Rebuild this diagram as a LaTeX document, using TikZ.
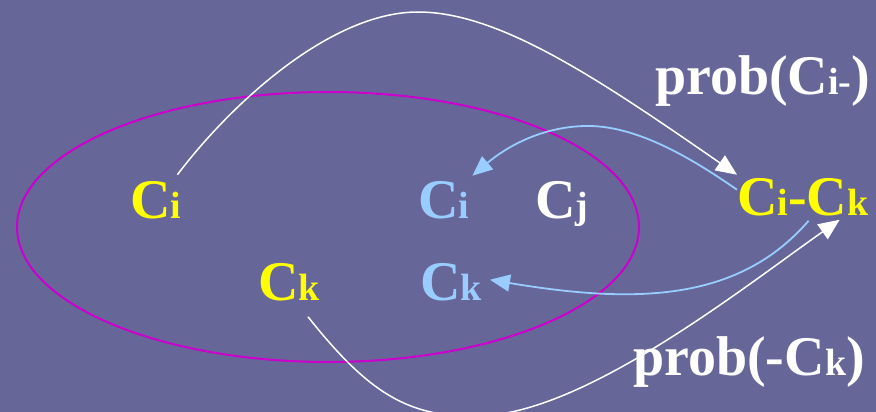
\documentclass[tikz,border=0pt]{standalone}
\usepackage{fontspec}
\setmainfont{Liberation Serif}
\usetikzlibrary{arrows.meta,calc}
\definecolor{bgc}{HTML}{666699}
\definecolor{mag}{HTML}{CC00CC}
\definecolor{lblue}{HTML}{99CCFF}
\definecolor{yel}{HTML}{FFFF00}
\newcommand{\sbs}[1]{{\fontsize{38}{38}\selectfont #1}}
\tikzset{
  lbl/.style={inner sep=0pt, anchor=base west, font=\fontsize{56}{56}\selectfont\bfseries},
  wline/.style={draw=white, line width=1.5pt, -{Triangle[length=21pt,width=18pt]}},
  bline/.style={draw=lblue, line width=1.8pt, -{Triangle[length=20pt,width=17pt]}},
}
\begin{document}
\begin{tikzpicture}[x=1pt,y=-1pt]
\fill[bgc] (0,0) rectangle (876,412);
\useasboundingbox (0,0) rectangle (876,412);
\draw[mag, line width=2pt] (328,227) ellipse [x radius=311, y radius=135];
\node[lbl, text=yel] (ciY) at (130,218) {C\sbs{i}};
\node[lbl, text=lblue] (ciB) at (418,218) {C\sbs{i}};
\node[lbl, text=white] (cj) at (535,218) {C\sbs{j}};
\node[lbl, text=yel] (ckY) at (258,300) {C\sbs{k}};
\node[lbl, text=lblue] (ckB) at (420,300) {C\sbs{k}};
\node[lbl, text=yel] (cick) at (737,215) {C\sbs{i}-C\sbs{k}};
\node[lbl, text=white] (p1) at (655,95) {prob(C\sbs{i-})};
\node[lbl, text=white] (p2) at (633,375) {prob(-C\sbs{k})};
% white arcs
\draw[wline] ($(ciY.north east)+(-4,-6)$) .. controls (230,105) and (330,12) .. (418,12)
  .. controls (500,12) and (600,80) .. ($(cick.north west)+(0,-3)$);
\draw[wline] ($(ckY.south east)+(-12,16)$) .. controls (370,395) and (410,418) .. (480,416)
  .. controls (585,413) and (740,290) .. ($(cick.south east)+(-29,4)$);
% blue arcs
\draw[bline] ($(cick.west)+(0,-7)$) .. controls (680,150) and (630,125) .. (585,126)
  .. controls (540,127) and (505,148) .. ($(ciB.north east)+(3,-5)$);
\draw[bline] ($(cick.south east)+(-60,5)$) .. controls (740,300) and (640,305) .. ($(ckB.east)+(8,-2)$);
\end{tikzpicture}
\end{document}
